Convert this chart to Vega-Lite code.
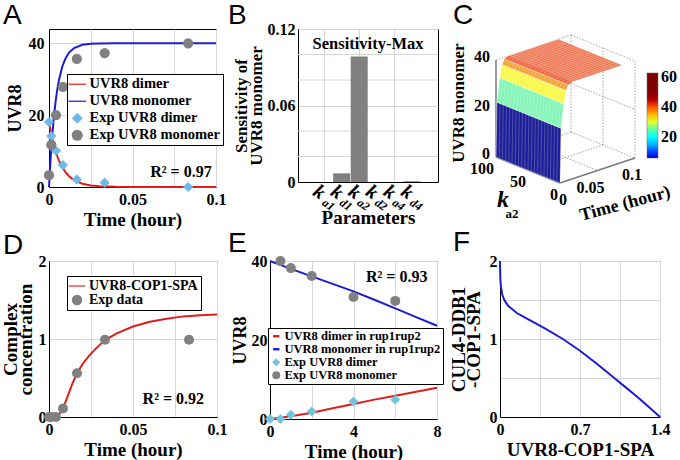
{
"$schema": "https://vega.github.io/schema/vega-lite/v6.json",
"autosize": {"type": "none"},
"padding": {"left": 49, "top": 29, "right": 631, "bottom": 431},
"background": "white",
"config": {
 "font": "Liberation Serif",
 "view": {"stroke": "black", "strokeWidth": 1},
 "axis": {"labelFont": "Liberation Serif", "labelFontWeight": "bold", "labelFontSize": 16, "labelColor": "black", "titleFont": "Liberation Serif", "titleFontWeight": "bold", "titleFontSize": 19, "titleColor": "black", "domainColor": "black", "domainWidth": 1, "gridColor": "#d6d6d6", "gridWidth": 1, "ticks": false, "labelPadding": 4, "titlePadding": 3, "labelFlush": false, "labelOverlap": false, "titleLineHeight": 15},
 "legend": {"labelFont": "Liberation Serif", "labelFontWeight": "bold", "labelFontSize": 14.5, "labelColor": "black", "fillColor": "white", "strokeColor": "black", "padding": 3, "rowPadding": 2, "symbolStrokeWidth": 0, "orient": "none", "direction": "vertical", "labelOverlap": false, "labelLimit": 260},
 "title": {"font": "Liberation Sans", "fontSize": 28, "fontWeight": "normal", "anchor": "start", "frame": "group", "baseline": "alphabetic", "color": "black"},
 "text": {"font": "Liberation Serif", "fontWeight": "bold", "color": "black"}
},
"datasets": {
 "curveA": [
  {"t":0,"series":"UVR8 dimer","v":18},{"t":0.001,"series":"UVR8 dimer","v":15.51},{"t":0.002,"series":"UVR8 dimer","v":13.36},{"t":0.003,"series":"UVR8 dimer","v":11.51},{"t":0.004,"series":"UVR8 dimer","v":9.92},{"t":0.005,"series":"UVR8 dimer","v":8.54},{"t":0.006,"series":"UVR8 dimer","v":7.36},{"t":0.008,"series":"UVR8 dimer","v":5.46},{"t":0.01,"series":"UVR8 dimer","v":4.06},{"t":0.012,"series":"UVR8 dimer","v":3.01},{"t":0.015,"series":"UVR8 dimer","v":1.93},{"t":0.02,"series":"UVR8 dimer","v":0.91},{"t":0.025,"series":"UVR8 dimer","v":0.43},{"t":0.03,"series":"UVR8 dimer","v":0.21},{"t":0.04,"series":"UVR8 dimer","v":0.05},{"t":0.05,"series":"UVR8 dimer","v":0.01},{"t":0.06,"series":"UVR8 dimer","v":0},{"t":0.08,"series":"UVR8 dimer","v":0},{"t":0.1,"series":"UVR8 dimer","v":0},
  {"t":0,"series":"UVR8 monomer","v":0},{"t":0.001,"series":"UVR8 monomer","v":8.19},{"t":0.002,"series":"UVR8 monomer","v":14.7},{"t":0.003,"series":"UVR8 monomer","v":19.88},{"t":0.004,"series":"UVR8 monomer","v":24.0},{"t":0.005,"series":"UVR8 monomer","v":27.27},{"t":0.006,"series":"UVR8 monomer","v":29.88},{"t":0.008,"series":"UVR8 monomer","v":33.6},{"t":0.01,"series":"UVR8 monomer","v":35.95},{"t":0.012,"series":"UVR8 monomer","v":37.44},{"t":0.015,"series":"UVR8 monomer","v":38.71},{"t":0.02,"series":"UVR8 monomer","v":39.59},{"t":0.025,"series":"UVR8 monomer","v":39.87},{"t":0.03,"series":"UVR8 monomer","v":39.96},{"t":0.04,"series":"UVR8 monomer","v":40},{"t":0.06,"series":"UVR8 monomer","v":40},{"t":0.08,"series":"UVR8 monomer","v":40},{"t":0.1,"series":"UVR8 monomer","v":40}
 ],
 "expA": [
  {"t":0,"series":"Exp UVR8 dimer","v":18.1},{"t":0.00139,"series":"Exp UVR8 dimer","v":14.2},{"t":0.00417,"series":"Exp UVR8 dimer","v":10.1},{"t":0.00833,"series":"Exp UVR8 dimer","v":6.1},{"t":0.01667,"series":"Exp UVR8 dimer","v":2.1},{"t":0.03333,"series":"Exp UVR8 dimer","v":1.2},{"t":0.08333,"series":"Exp UVR8 dimer","v":0},
  {"t":0,"series":"Exp UVR8 monomer","v":3.3},{"t":0.00139,"series":"Exp UVR8 monomer","v":11.7},{"t":0.00417,"series":"Exp UVR8 monomer","v":20},{"t":0.00833,"series":"Exp UVR8 monomer","v":27.9},{"t":0.01667,"series":"Exp UVR8 monomer","v":35.7},{"t":0.03333,"series":"Exp UVR8 monomer","v":37.3},{"t":0.08333,"series":"Exp UVR8 monomer","v":40}
 ],
 "sens": [
  {"pos":1,"param":"ka1","sub":"a1","val":0},{"pos":2,"param":"kd1","sub":"d1","val":0.0068},{"pos":3,"param":"ka2","sub":"a2","val":0.0985},{"pos":4,"param":"kd2","sub":"d2","val":0},{"pos":5,"param":"ka4","sub":"a4","val":0},{"pos":6,"param":"kd4","sub":"d4","val":0.0006}
 ],
 "bgrid": [{"g":0.02},{"g":0.04},{"g":0.08},{"g":0.1}],
 "box": [
  {"seg":1,"k":100,"t":0,"v":40},{"seg":1,"k":100,"t":0.1,"v":40},
  {"seg":2,"k":100,"t":0,"v":20},{"seg":2,"k":100,"t":0.1,"v":20},
  {"seg":3,"k":100,"t":0,"v":0},{"seg":3,"k":100,"t":0.1,"v":0},
  {"seg":4,"k":100,"t":0.05,"v":0},{"seg":4,"k":100,"t":0.05,"v":40},
  {"seg":5,"k":100,"t":0.1,"v":0},{"seg":5,"k":100,"t":0.1,"v":40},
  {"seg":6,"k":100,"t":0.1,"v":40},{"seg":6,"k":0,"t":0.1,"v":40},
  {"seg":7,"k":100,"t":0.1,"v":20},{"seg":7,"k":0,"t":0.1,"v":20},
  {"seg":8,"k":100,"t":0.1,"v":0},{"seg":8,"k":0,"t":0.1,"v":0},
  {"seg":9,"k":50,"t":0.1,"v":0},{"seg":9,"k":50,"t":0.1,"v":40},
  {"seg":10,"k":0,"t":0.1,"v":0},{"seg":10,"k":0,"t":0.1,"v":40},
  {"seg":11,"k":50,"t":0,"v":0},{"seg":11,"k":50,"t":0.1,"v":0},
  {"seg":12,"k":0,"t":0.05,"v":0},{"seg":12,"k":100,"t":0.05,"v":0}
 ],
 "axes3d": [
  {"seg":1,"k":100,"t":0,"v":0},{"seg":1,"k":100,"t":0,"v":40},
  {"seg":2,"k":0,"t":0,"v":0},{"seg":2,"k":0,"t":0.1,"v":0},
  {"seg":3,"k":0,"t":0,"v":0},{"seg":3,"k":100,"t":0,"v":0}
 ],
 "surf": [
  {"band":"b1","ord":1,"k":0,"t":0,"v":0},{"band":"b1","ord":2,"k":100,"t":0,"v":0},{"band":"b1","ord":3,"k":100,"t":0.0012,"v":22.5},{"band":"b1","ord":4,"k":0,"t":0.0012,"v":22.5},
  {"band":"b2","ord":1,"k":0,"t":0.0012,"v":22.5},{"band":"b2","ord":2,"k":100,"t":0.0012,"v":22.5},{"band":"b2","ord":3,"k":100,"t":0.005,"v":32.2},{"band":"b2","ord":4,"k":0,"t":0.005,"v":32.2},
  {"band":"b3","ord":1,"k":0,"t":0.005,"v":32.2},{"band":"b3","ord":2,"k":100,"t":0.005,"v":32.2},{"band":"b3","ord":3,"k":100,"t":0.008,"v":37.3},{"band":"b3","ord":4,"k":0,"t":0.008,"v":37.3},
  {"band":"b4","ord":1,"k":0,"t":0.008,"v":37.3},{"band":"b4","ord":2,"k":100,"t":0.008,"v":37.3},{"band":"b4","ord":3,"k":100,"t":0.011,"v":39.3},{"band":"b4","ord":4,"k":0,"t":0.011,"v":39.3},
  {"band":"b5","ord":1,"k":0,"t":0.011,"v":39.3},{"band":"b5","ord":2,"k":100,"t":0.011,"v":39.3},{"band":"b5","ord":3,"k":100,"t":0.015,"v":40},{"band":"b5","ord":4,"k":100,"t":0.083,"v":40},{"band":"b5","ord":5,"k":0,"t":0.083,"v":40},{"band":"b5","ord":6,"k":0,"t":0.015,"v":40}
 ],
 "meshk": [
  {"t":0,"v":0,"ks":[0,5,10,15,20,25,30,35,40,45,50,55,60,65,70,75,80,85,90,95,100]},
  {"t":0.0012,"v":22.5,"ks":[0,5,10,15,20,25,30,35,40,45,50,55,60,65,70,75,80,85,90,95,100]},
  {"t":0.005,"v":32.2,"ks":[0,5,10,15,20,25,30,35,40,45,50,55,60,65,70,75,80,85,90,95,100]},
  {"t":0.008,"v":37.3,"ks":[0,5,10,15,20,25,30,35,40,45,50,55,60,65,70,75,80,85,90,95,100]},
  {"t":0.011,"v":39.3,"ks":[0,5,10,15,20,25,30,35,40,45,50,55,60,65,70,75,80,85,90,95,100]},
  {"t":0.015,"v":40,"ks":[0,5,10,15,20,25,30,35,40,45,50,55,60,65,70,75,80,85,90,95,100]},
  {"t":0.083,"v":40,"ks":[0,5,10,15,20,25,30,35,40,45,50,55,60,65,70,75,80,85,90,95,100]}
 ],
 "mesht": [
  {"t":0.019,"v":40,"ks":[0,100]},{"t":0.023,"v":40,"ks":[0,100]},{"t":0.027,"v":40,"ks":[0,100]},{"t":0.031,"v":40,"ks":[0,100]},{"t":0.035,"v":40,"ks":[0,100]},{"t":0.039,"v":40,"ks":[0,100]},{"t":0.043,"v":40,"ks":[0,100]},{"t":0.047,"v":40,"ks":[0,100]},{"t":0.051,"v":40,"ks":[0,100]},{"t":0.055,"v":40,"ks":[0,100]},{"t":0.059,"v":40,"ks":[0,100]},{"t":0.063,"v":40,"ks":[0,100]},{"t":0.067,"v":40,"ks":[0,100]},{"t":0.071,"v":40,"ks":[0,100]},{"t":0.075,"v":40,"ks":[0,100]},{"t":0.079,"v":40,"ks":[0,100]}
 ],
 "clab": [
  {"grp":"z","k":100,"t":0,"v":0,"lab":"0"},{"grp":"z","k":100,"t":0,"v":20,"lab":"20"},{"grp":"z","k":100,"t":0,"v":40,"lab":"40"},
  {"grp":"k","k":100,"t":0,"v":0,"lab":"100"},{"grp":"k","k":50,"t":0,"v":0,"lab":"50"},{"grp":"k","k":0,"t":0,"v":0,"lab":"0"},
  {"grp":"t","k":0,"t":0,"v":0,"lab":"0"},{"grp":"t","k":0,"t":0.05,"v":0,"lab":"0.05"},{"grp":"t","k":0,"t":0.1,"v":0,"lab":"0.1"}
 ],
 "curveD": [
  {"t":0,"v":0},{"t":0.004,"v":0},{"t":0.006,"v":0.03},{"t":0.0083,"v":0.11},{"t":0.01,"v":0.2},{"t":0.012,"v":0.32},{"t":0.014,"v":0.43},{"t":0.0167,"v":0.56},{"t":0.02,"v":0.68},{"t":0.024,"v":0.79},{"t":0.028,"v":0.88},{"t":0.033,"v":0.98},{"t":0.04,"v":1.07},{"t":0.05,"v":1.16},{"t":0.06,"v":1.22},{"t":0.07,"v":1.26},{"t":0.08,"v":1.29},{"t":0.09,"v":1.305},{"t":0.1,"v":1.315}
 ],
 "expD": [
  {"t":0,"series":"Exp data","v":0},{"t":0.00139,"series":"Exp data","v":0},{"t":0.00417,"series":"Exp data","v":0},{"t":0.00833,"series":"Exp data","v":0.11},{"t":0.01667,"series":"Exp data","v":0.56},{"t":0.03333,"series":"Exp data","v":0.99},{"t":0.08333,"series":"Exp data","v":0.99}
 ],
 "curveE": [
  {"t":0,"series":"UVR8 dimer in rup1rup2","v":0},{"t":1,"series":"UVR8 dimer in rup1rup2","v":0.7},{"t":2,"series":"UVR8 dimer in rup1rup2","v":1.6},{"t":3,"series":"UVR8 dimer in rup1rup2","v":2.7},{"t":4,"series":"UVR8 dimer in rup1rup2","v":3.8},{"t":5,"series":"UVR8 dimer in rup1rup2","v":4.9},{"t":6,"series":"UVR8 dimer in rup1rup2","v":5.9},{"t":7,"series":"UVR8 dimer in rup1rup2","v":6.9},{"t":8,"series":"UVR8 dimer in rup1rup2","v":7.9},
  {"t":0,"series":"UVR8 monomer in rup1rup2","v":40},{"t":1,"series":"UVR8 monomer in rup1rup2","v":38.0},{"t":2,"series":"UVR8 monomer in rup1rup2","v":36.1},{"t":3,"series":"UVR8 monomer in rup1rup2","v":34.2},{"t":4,"series":"UVR8 monomer in rup1rup2","v":32.3},{"t":5,"series":"UVR8 monomer in rup1rup2","v":30.2},{"t":6,"series":"UVR8 monomer in rup1rup2","v":28.0},{"t":7,"series":"UVR8 monomer in rup1rup2","v":25.8},{"t":8,"series":"UVR8 monomer in rup1rup2","v":23.6}
 ],
 "expE": [
  {"t":0,"series":"Exp UVR8 dimer","v":0},{"t":0.5,"series":"Exp UVR8 dimer","v":0},{"t":1,"series":"Exp UVR8 dimer","v":1.1},{"t":2,"series":"Exp UVR8 dimer","v":1.9},{"t":4,"series":"Exp UVR8 dimer","v":4.4},{"t":6,"series":"Exp UVR8 dimer","v":4.9},
  {"t":0.5,"series":"Exp UVR8 monomer","v":40},{"t":1,"series":"Exp UVR8 monomer","v":38.2},{"t":2,"series":"Exp UVR8 monomer","v":36.2},{"t":4,"series":"Exp UVR8 monomer","v":30.9},{"t":6,"series":"Exp UVR8 monomer","v":29.9}
 ],
 "curveF": [
  {"x":0,"y":2.0},{"x":0.002,"y":1.82},{"x":0.005,"y":1.72},{"x":0.01,"y":1.65},{"x":0.02,"y":1.57},{"x":0.035,"y":1.51},{"x":0.05,"y":1.47},{"x":0.075,"y":1.42},{"x":0.1,"y":1.39},{"x":0.15,"y":1.33},{"x":0.2,"y":1.29},{"x":0.3,"y":1.21},{"x":0.4,"y":1.13},{"x":0.55,"y":1.0},{"x":0.7,"y":0.85},{"x":0.85,"y":0.68},{"x":1.0,"y":0.5},{"x":1.1,"y":0.38},{"x":1.2,"y":0.26},{"x":1.3,"y":0.13},{"x":1.4,"y":0.0}
 ]
},
"vconcat": [
 {
  "hconcat": [
   {
    "width": 167, "height": 158,
    "title": {"text": "A", "dx": -46, "offset": -1},
    "layer": [
     {"data": {"name": "curveA"}, "mark": {"type": "line", "strokeWidth": 2},
      "encoding": {
       "x": {"field": "t", "type": "quantitative", "scale": {"domain": [0, 0.1], "nice": false, "zero": false}, "axis": {"values": [0, 0.025, 0.05, 0.075, 0.1], "format": ".2~f", "labelOverlap": false, "labelExpr": "(abs(datum.value) < 1e-9 || abs(datum.value - 0.05) < 1e-9 || abs(datum.value - 0.1) < 1e-9) ? datum.label : ''", "title": "Time (hour)"}},
       "y": {"field": "v", "type": "quantitative", "scale": {"domain": [0, 44], "nice": false}, "axis": {"values": [0, 10, 20, 30, 40], "format": ".0f", "labelOverlap": false, "labelExpr": "datum.value % 20 == 0 ? datum.label : ''", "title": "UVR8", "titleFontSize": 18, "labelPadding": 5, "titlePadding": 4}},
       "color": {"field": "series", "type": "nominal", "scale": {"domain": ["UVR8 dimer", "UVR8 monomer"], "range": ["#e01b1b", "#1c1cd8"]}, "legend": null}
      }},
     {"data": {"name": "expA"}, "mark": {"type": "point", "filled": true, "opacity": 1, "size": 105, "strokeWidth": 0},
      "encoding": {
       "x": {"field": "t", "type": "quantitative"},
       "y": {"field": "v", "type": "quantitative"},
       "fill": {"field": "series", "type": "nominal", "scale": {"domain": ["UVR8 dimer", "UVR8 monomer", "Exp UVR8 dimer", "Exp UVR8 monomer"], "range": ["#e01b1b", "#1c1cd8", "#6fb8ea", "#808080"]}, "legend": {"title": null, "legendX": 18, "legendY": 45, "symbolSize": 121, "labelOffset": 5}},
       "shape": {"field": "series", "type": "nominal", "scale": {"domain": ["UVR8 dimer", "UVR8 monomer", "Exp UVR8 dimer", "Exp UVR8 monomer"], "range": ["M-1.6,-0.11H1.6V0.11H-1.6Z", "M-1.6,-0.11H1.6V0.11H-1.6Z", "diamond", "circle"]}, "legend": {"title": null, "legendX": 18, "legendY": 45, "symbolSize": 121, "labelOffset": 5}}
      }},
     {"data": {"values": [{}]}, "mark": {"type": "text", "text": "R² = 0.97", "fontSize": 16},
      "encoding": {"x": {"datum": 0.079}, "y": {"datum": 4.2}}}
    ]
   },
   {
    "width": 140, "height": 153,
    "title": {"text": "B", "dx": -70, "offset": -9},
    "layer": [
     {"data": {"name": "bgrid"}, "mark": {"type": "rule", "color": "#d6d6d6", "strokeWidth": 1},
      "encoding": {"y": {"field": "g", "type": "quantitative"}}},
     {"data": {"name": "sens"}, "mark": {"type": "bar", "width": 17, "color": "#808080"},
      "encoding": {
       "x": {"field": "pos", "type": "quantitative", "scale": {"domain": [-0.2, 7.2], "nice": false, "zero": false}, "axis": {"values": [1, 2, 3, 4, 5, 6], "labels": false, "title": "Parameters", "titlePadding": 26}},
       "y": {"field": "val", "type": "quantitative", "scale": {"domain": [0, 0.12], "nice": false}, "axis": {"values": [0, 0.06, 0.12], "format": ".2~f", "labelOverlap": false, "title": ["Sensitivity of", "UVR8 monomer"], "titleFontSize": 17, "titlePadding": 2, "labelPadding": 3}}
      }},
     {"data": {"name": "sens"}, "mark": {"type": "text", "text": "k", "angle": 35, "fontSize": 20, "fontStyle": "italic", "dx": 2, "dy": 11},
      "encoding": {"x": {"field": "pos", "type": "quantitative"}, "y": {"datum": 0}}},
     {"data": {"name": "sens"}, "mark": {"type": "text", "angle": 35, "fontSize": 12, "fontStyle": "italic", "dx": 16.5, "dy": 16},
      "encoding": {"x": {"field": "pos", "type": "quantitative"}, "y": {"datum": 0}, "text": {"field": "sub"}}},
     {"data": {"values": [{}]}, "mark": {"type": "text", "text": "Sensitivity-Max", "fontSize": 16.5},
      "encoding": {"x": {"datum": 3.5}, "y": {"datum": 0.108}}}
    ]
   },
   {
    "width": 120, "height": 158,
    "view": {"stroke": null},
    "title": {"text": "C", "dx": -67, "offset": -1},
    "layer": [
     {"data": {"name": "box"},
      "transform": [{"calculate": "750*datum.t - 0.64*datum.k", "as": "px"}, {"calculate": "2.425*datum.v + 0.26*datum.k + 250*datum.t", "as": "py"}],
      "mark": {"type": "line", "stroke": "#8c8c8c", "strokeWidth": 0.8, "strokeDash": [1.5, 1.5]},
      "encoding": {
       "x": {"field": "px", "type": "quantitative", "scale": {"domain": [-40, 80], "nice": false, "zero": false}, "axis": null},
       "y": {"field": "py", "type": "quantitative", "scale": {"domain": [-4, 154], "nice": false, "zero": false}, "axis": null},
       "detail": {"field": "seg", "type": "nominal"}
      }},
     {"data": {"name": "axes3d"},
      "transform": [{"calculate": "750*datum.t - 0.64*datum.k", "as": "px"}, {"calculate": "2.425*datum.v + 0.26*datum.k + 250*datum.t", "as": "py"}],
      "mark": {"type": "line", "stroke": "#7a7a7a", "strokeWidth": 1.5},
      "encoding": {
       "x": {"field": "px", "type": "quantitative"},
       "y": {"field": "py", "type": "quantitative"},
       "detail": {"field": "seg", "type": "nominal"}
      }},
     {"data": {"name": "surf"},
      "transform": [{"calculate": "750*datum.t - 0.64*datum.k", "as": "px"}, {"calculate": "2.425*datum.v + 0.26*datum.k + 250*datum.t", "as": "py"}],
      "mark": {"type": "line", "stroke": "white", "strokeWidth": 0.5, "strokeOpacity": 0.6},
      "encoding": {
       "x": {"field": "px", "type": "quantitative"},
       "y": {"field": "py", "type": "quantitative"},
       "detail": {"field": "band", "type": "nominal"},
       "order": {"field": "ord", "type": "quantitative"},
       "fill": {"field": "band", "type": "nominal", "scale": {"domain": ["b1", "b2", "b3", "b4", "b5"], "range": ["#1c1f96", "#86f5b8", "#f8f84a", "#f3a53a", "#ee6e48"]}, "legend": null}
      }},
     {"data": {"name": "meshk"},
      "transform": [{"flatten": ["ks"], "as": ["k"]}, {"calculate": "750*datum.t - 0.64*datum.k", "as": "px"}, {"calculate": "2.425*datum.v + 0.26*datum.k + 250*datum.t", "as": "py"}],
      "mark": {"type": "line", "stroke": "white", "strokeWidth": 0.5, "strokeOpacity": 0.45},
      "encoding": {
       "x": {"field": "px", "type": "quantitative"},
       "y": {"field": "py", "type": "quantitative"},
       "detail": {"field": "k", "type": "nominal"}
      }},
     {"data": {"name": "mesht"},
      "transform": [{"flatten": ["ks"], "as": ["k"]}, {"calculate": "750*datum.t - 0.64*datum.k", "as": "px"}, {"calculate": "2.425*datum.v + 0.26*datum.k + 250*datum.t", "as": "py"}],
      "mark": {"type": "line", "stroke": "white", "strokeWidth": 0.5, "strokeOpacity": 0.45},
      "encoding": {
       "x": {"field": "px", "type": "quantitative"},
       "y": {"field": "py", "type": "quantitative"},
       "detail": {"field": "t", "type": "nominal"}
      }},
     {"data": {"name": "clab"},
      "transform": [{"filter": "datum.grp == 'z'"}, {"calculate": "750*datum.t - 0.64*datum.k", "as": "px"}, {"calculate": "2.425*datum.v + 0.26*datum.k + 250*datum.t", "as": "py"}],
      "mark": {"type": "text", "align": "right", "baseline": "middle", "dx": -6, "dy": -3, "fontSize": 16},
      "encoding": {"x": {"field": "px", "type": "quantitative"}, "y": {"field": "py", "type": "quantitative"}, "text": {"field": "lab"}}},
     {"data": {"name": "clab"},
      "transform": [{"filter": "datum.grp == 'k'"}, {"calculate": "750*datum.t - 0.64*datum.k", "as": "px"}, {"calculate": "2.425*datum.v + 0.26*datum.k + 250*datum.t", "as": "py"}],
      "mark": {"type": "text", "align": "right", "baseline": "middle", "dx": -2, "dy": 12, "fontSize": 16},
      "encoding": {"x": {"field": "px", "type": "quantitative"}, "y": {"field": "py", "type": "quantitative"}, "text": {"field": "lab"}}},
     {"data": {"name": "clab"},
      "transform": [{"filter": "datum.grp == 't'"}, {"calculate": "750*datum.t - 0.64*datum.k", "as": "px"}, {"calculate": "2.425*datum.v + 0.26*datum.k + 250*datum.t", "as": "py"}],
      "mark": {"type": "text", "align": "right", "baseline": "middle", "dx": 7, "dy": 17, "fontSize": 16},
      "encoding": {"x": {"field": "px", "type": "quantitative"}, "y": {"field": "py", "type": "quantitative"}, "text": {"field": "lab"}}},
     {"data": {"values": [{"k": 100, "t": 0, "v": 21}]},
      "transform": [{"calculate": "750*datum.t - 0.64*datum.k", "as": "px"}, {"calculate": "2.425*datum.v + 0.26*datum.k + 250*datum.t", "as": "py"}],
      "mark": {"type": "text", "text": "UVR8 monomer", "angle": -90, "align": "center", "baseline": "middle", "dx": 3, "dy": -37, "fontSize": 17},
      "encoding": {"x": {"field": "px", "type": "quantitative"}, "y": {"field": "py", "type": "quantitative"}}},
     {"data": {"values": [{"k": 100, "t": 0, "v": 0}]},
      "transform": [{"calculate": "750*datum.t - 0.64*datum.k", "as": "px"}, {"calculate": "2.425*datum.v + 0.26*datum.k + 250*datum.t", "as": "py"}],
      "mark": {"type": "text", "text": "k", "align": "center", "baseline": "middle", "dx": 7, "dy": 43, "fontSize": 24, "fontStyle": "italic"},
      "encoding": {"x": {"field": "px", "type": "quantitative"}, "y": {"field": "py", "type": "quantitative"}}},
     {"data": {"values": [{"k": 100, "t": 0, "v": 0}]},
      "transform": [{"calculate": "750*datum.t - 0.64*datum.k", "as": "px"}, {"calculate": "2.425*datum.v + 0.26*datum.k + 250*datum.t", "as": "py"}],
      "mark": {"type": "text", "text": "a2", "align": "center", "baseline": "middle", "dx": 16, "dy": 57, "fontSize": 13},
      "encoding": {"x": {"field": "px", "type": "quantitative"}, "y": {"field": "py", "type": "quantitative"}}},
     {"data": {"values": [{"k": 0, "t": 0.05, "v": 0}]},
      "transform": [{"calculate": "750*datum.t - 0.64*datum.k", "as": "px"}, {"calculate": "2.425*datum.v + 0.26*datum.k + 250*datum.t", "as": "py"}],
      "mark": {"type": "text", "text": "Time (hour)", "angle": -15, "align": "center", "baseline": "middle", "dx": 18, "dy": 39.5, "fontSize": 18},
      "encoding": {"x": {"field": "px", "type": "quantitative"}, "y": {"field": "py", "type": "quantitative"}}},
     {"data": {"values": [{"cv": 6}, {"cv": 63}]},
      "mark": {"type": "point", "opacity": 0},
      "encoding": {
       "x": {"datum": 0}, "y": {"datum": 0},
       "color": {"field": "cv", "type": "quantitative", "scale": {"domain": [6, 9, 20, 31, 42, 47.5, 63], "range": ["#0000c0", "#0000ff", "#00ffff", "#ffff00", "#ff0000", "#800000", "#800000"]},
        "legend": {"title": null, "type": "gradient", "legendX": 127, "legendY": 44, "gradientLength": 85, "gradientThickness": 11, "values": [20, 40, 60], "labelFontSize": 16, "labelOffset": 3, "fillColor": "transparent", "strokeColor": "transparent", "padding": 0, "gradientStrokeColor": "#666666", "gradientStrokeWidth": 0.5}}
      }}
    ]
   }
  ],
  "spacing": 82,
  "bounds": "flush",
  "resolve": {"scale": {"color": "independent", "fill": "independent", "shape": "independent", "stroke": "independent", "size": "independent"}, "legend": {"color": "independent", "fill": "independent", "shape": "independent"}}
 },
 {
  "hconcat": [
   {
    "width": 168, "height": 156,
    "title": {"text": "D", "dx": -46, "offset": -7},
    "layer": [
     {"data": {"name": "curveD"}, "mark": {"type": "line", "strokeWidth": 2, "color": "#e01b1b"},
      "encoding": {
       "x": {"field": "t", "type": "quantitative", "scale": {"domain": [0, 0.1], "nice": false, "zero": false}, "axis": {"values": [0, 0.025, 0.05, 0.075, 0.1], "format": ".2~f", "labelOverlap": false, "labelExpr": "(abs(datum.value) < 1e-9 || abs(datum.value - 0.05) < 1e-9 || abs(datum.value - 0.1) < 1e-9) ? datum.label : ''", "title": "Time (hour)"}},
       "y": {"field": "v", "type": "quantitative", "scale": {"domain": [0, 2], "nice": false}, "axis": {"values": [0, 0.5, 1, 1.5, 2], "format": ".1~f", "labelOverlap": false, "labelExpr": "datum.value % 1 == 0 ? datum.label : ''", "title": ["Complex", "concentration"], "titlePadding": 3, "labelPadding": 3}}
      }},
     {"data": {"name": "expD"}, "mark": {"type": "point", "filled": true, "opacity": 1, "size": 100, "strokeWidth": 0},
      "encoding": {
       "x": {"field": "t", "type": "quantitative"},
       "y": {"field": "v", "type": "quantitative"},
       "fill": {"field": "series", "type": "nominal", "scale": {"domain": ["UVR8-COP1-SPA", "Exp data"], "range": ["#e01b1b", "#808080"]}, "legend": {"title": null, "legendX": 18, "legendY": 15, "symbolSize": 110, "labelOffset": 5, "labelFontSize": 14, "rowPadding": 0}},
       "shape": {"field": "series", "type": "nominal", "scale": {"domain": ["UVR8-COP1-SPA", "Exp data"], "range": ["M-1.6,-0.11H1.6V0.11H-1.6Z", "circle"]}, "legend": {"title": null, "legendX": 18, "legendY": 15, "symbolSize": 110, "labelOffset": 5, "labelFontSize": 14, "rowPadding": 0}}
      }},
     {"data": {"values": [{}]}, "mark": {"type": "text", "text": "R² = 0.92", "fontSize": 16},
      "encoding": {"x": {"datum": 0.074}, "y": {"datum": 0.23}}}
    ]
   },
   {
    "hconcat": [
     {
      "width": 167, "height": 158,
      "title": {"text": "E", "dx": -42, "offset": -5},
      "layer": [
       {"data": {"name": "curveE"}, "mark": {"type": "line", "strokeWidth": 2},
        "encoding": {
         "x": {"field": "t", "type": "quantitative", "scale": {"domain": [0, 8], "nice": false, "zero": false}, "axis": {"values": [0, 2, 4, 6, 8], "format": ".0f", "labelOverlap": false, "labelExpr": "datum.value % 4 == 0 ? datum.label : ''", "title": "Time (hour)"}},
         "y": {"field": "v", "type": "quantitative", "scale": {"domain": [0, 40], "nice": false}, "axis": {"values": [0, 10, 20, 30, 40], "format": ".0f", "labelOverlap": false, "labelExpr": "datum.value % 20 == 0 ? datum.label : ''", "title": "UVR8", "titleFontSize": 18, "titlePadding": 2, "labelPadding": 3}},
         "color": {"field": "series", "type": "nominal", "scale": {"domain": ["UVR8 dimer in rup1rup2", "UVR8 monomer in rup1rup2"], "range": ["#e01b1b", "#1c1cd8"]}, "legend": null}
        }},
       {"data": {"name": "expE"}, "mark": {"type": "point", "filled": true, "opacity": 1, "size": 100, "strokeWidth": 0},
        "encoding": {
         "x": {"field": "t", "type": "quantitative"},
         "y": {"field": "v", "type": "quantitative"},
         "fill": {"field": "series", "type": "nominal", "scale": {"domain": ["UVR8 dimer in rup1rup2", "UVR8 monomer in rup1rup2", "Exp UVR8 dimer", "Exp UVR8 monomer"], "range": ["#e01b1b", "#1c1cd8", "#76c4dc", "#808080"]}, "legend": {"title": null, "legendX": -2, "legendY": 67, "symbolSize": 64, "labelOffset": 2, "labelFontSize": 12.5, "rowPadding": -0.5, "padding": 2, "labelLimit": 260}},
         "shape": {"field": "series", "type": "nominal", "scale": {"domain": ["UVR8 dimer in rup1rup2", "UVR8 monomer in rup1rup2", "Exp UVR8 dimer", "Exp UVR8 monomer"], "range": ["M-0.8,-0.3H0.8V0.3H-0.8Z", "M-0.8,-0.3H0.8V0.3H-0.8Z", "diamond", "circle"]}, "legend": {"title": null, "legendX": -2, "legendY": 67, "symbolSize": 64, "labelOffset": 2, "labelFontSize": 12.5, "rowPadding": -0.5, "padding": 2, "labelLimit": 260}}
        }},
       {"data": {"values": [{}]}, "mark": {"type": "text", "text": "R² = 0.93", "fontSize": 16},
        "encoding": {"x": {"datum": 6.07}, "y": {"datum": 35.9}}}
      ]
     },
     {
      "width": 160, "height": 156,
      "title": {"text": "F", "dx": -47, "offset": -4},
      "data": {"name": "curveF"},
      "mark": {"type": "line", "strokeWidth": 2, "color": "#1c1cd8"},
      "encoding": {
       "x": {"field": "x", "type": "quantitative", "scale": {"domain": [0, 1.4], "nice": false, "zero": false}, "axis": {"values": [0, 0.35, 0.7, 1.05, 1.4], "format": ".2~f", "labelOverlap": false, "labelExpr": "(abs(datum.value) < 1e-9 || abs(datum.value - 0.7) < 1e-9 || abs(datum.value - 1.4) < 1e-9) ? datum.label : ''", "title": "UVR8-COP1-SPA"}},
       "y": {"field": "y", "type": "quantitative", "scale": {"domain": [0, 2], "nice": false}, "axis": {"values": [0, 0.5, 1, 1.5, 2], "format": ".1~f", "labelOverlap": false, "labelExpr": "datum.value % 1 == 0 ? datum.label : ''", "title": ["CUL4-DDB1", "-COP1-SPA"], "titlePadding": 6, "labelPadding": 3}}
      }
     }
    ],
    "spacing": 63,
    "bounds": "flush",
    "resolve": {"scale": {"color": "independent", "fill": "independent", "shape": "independent"}, "legend": {"color": "independent", "fill": "independent", "shape": "independent"}}
   }
  ],
  "spacing": 53,
  "bounds": "flush",
  "resolve": {"scale": {"color": "independent", "fill": "independent", "shape": "independent"}, "legend": {"color": "independent", "fill": "independent", "shape": "independent"}}
 }
],
"spacing": -2,
"bounds": "full",
"resolve": {"scale": {"color": "independent", "fill": "independent", "shape": "independent"}, "legend": {"color": "independent", "fill": "independent", "shape": "independent"}}
}
